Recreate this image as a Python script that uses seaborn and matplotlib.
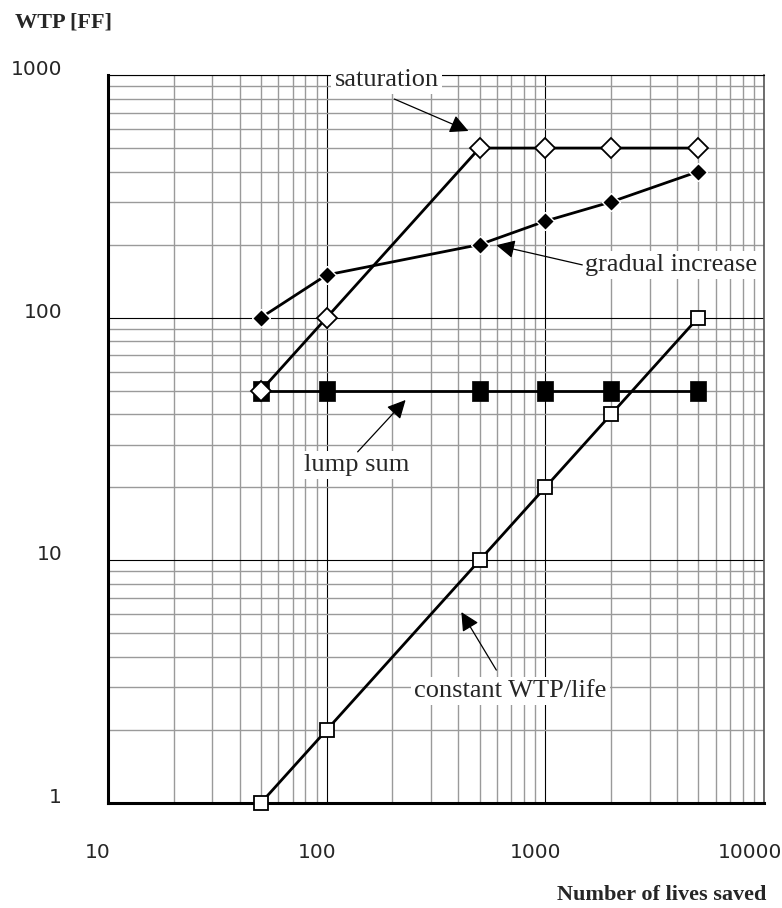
import matplotlib
matplotlib.use("Agg")
import matplotlib.pyplot as plt
import matplotlib.ticker as mticker
import matplotlib.transforms as mtrans
import numpy as np
import pandas as pd
import seaborn as sns

# data
lives = [50, 100, 500, 1000, 2000, 5000]
wtp_saturation = [50, 100, 500, 500, 500, 500]
wtp_gradual = [100, 150, 200, 250, 300, 400]
wtp_lump = [50, 50, 50, 50, 50, 50]
wtp_constant = [1, 2, 10, 20, 40, 100]

x_ticks = [10, 100, 1000, 10000]
y_ticks = [1, 10, 100, 1000]

sns.set_style("white")
plt.rcParams["font.family"] = ["DejaVu Sans"]

fig = plt.figure(figsize=(7.82, 9.08), dpi=100)
ax = fig.add_axes([0.1381, 0.1156, 0.977 - 0.1381, 0.9174 - 0.1156])

ax.set_xscale("log")
ax.set_yscale("log")
ax.set_xlim(10, 10000)
ax.set_ylim(1, 1000)

# grid: grey minor, black major
ax.xaxis.set_minor_locator(mticker.LogLocator(base=10, subs=np.arange(2, 10)))
ax.yaxis.set_minor_locator(mticker.LogLocator(base=10, subs=np.arange(2, 10)))
ax.xaxis.set_minor_formatter(mticker.NullFormatter())
ax.yaxis.set_minor_formatter(mticker.NullFormatter())
ax.grid(which="minor", color="#9a9a9a", lw=1.0, zorder=0)
ax.grid(which="major", color="black", lw=0.8, zorder=0)
ax.set_axisbelow(True)

ax.set_xticks(x_ticks)
ax.set_yticks(y_ticks)
ax.set_xticklabels([str(v) for v in x_ticks])
ax.set_yticklabels([str(v) for v in y_ticks])
ax.tick_params(which="major", direction="out", length=7, width=1.0, color="#8a8a8a",
               labelsize=14.5)
ax.tick_params(axis="x", pad=22)
ax.tick_params(axis="y", pad=26)
ax.tick_params(which="minor", length=0)

for lab in ax.get_yticklabels():
    lab.set_verticalalignment("baseline")
xlabs = ax.get_xticklabels()
for i, lab in enumerate(xlabs):
    dx = -0.14 if i == len(xlabs) - 1 else -0.1
    lab.set_transform(lab.get_transform() + mtrans.ScaledTranslation(dx, 0, fig.dpi_scale_trans))

for side in ["left", "bottom"]:
    ax.spines[side].set_color("black")
    ax.spines[side].set_linewidth(2.2)
ax.spines["top"].set_color("black")
ax.spines["top"].set_linewidth(0.8)
ax.spines["right"].set_color("#555555")
ax.spines["right"].set_linewidth(1.2)

df = pd.DataFrame({
    "lives": lives,
    "saturation": wtp_saturation,
    "gradual": wtp_gradual,
    "lump": wtp_lump,
    "constant": wtp_constant,
})

rect = [(-0.8, -1), (0.8, -1), (0.8, 1), (-0.8, 1), (-0.8, -1)]

sns.lineplot(data=df, x="lives", y="lump", ax=ax, color="black", lw=2.0,
             marker=rect, markersize=14.5, markerfacecolor="black",
             markeredgecolor="black", markeredgewidth=0.5, clip_on=False, zorder=3)
sns.lineplot(data=df, x="lives", y="constant", ax=ax, color="black", lw=2.0,
             marker="s", markersize=10, markerfacecolor="white",
             markeredgecolor="black", markeredgewidth=1.3, clip_on=False, zorder=4)
sns.lineplot(data=df, x="lives", y="gradual", ax=ax, color="black", lw=2.0,
             marker="D", markersize=9.5, markerfacecolor="black",
             markeredgecolor="white", markeredgewidth=1.0, clip_on=False, zorder=5)
sns.lineplot(data=df, x="lives", y="saturation", ax=ax, color="black", lw=2.0,
             marker="D", markersize=10.5, markerfacecolor="white",
             markeredgecolor="black", markeredgewidth=1.3, clip_on=False, zorder=6)

ax.set_xlabel("")
ax.set_ylabel("")

# callouts
serif = "Liberation Serif"
box = dict(boxstyle="square,pad=0.12", fc="white", ec="none")
arrow = dict(arrowstyle="-|>", color="black", lw=0.9, mutation_scale=28,
             shrinkA=0, shrinkB=0)
callouts = [
    ("saturation", (188, 953), (204, 796), (445, 588)),
    ("gradual increase", (3758, 165), (1476, 165), (597, 199)),
    ("lump sum", (137, 24.7), (138.6, 28.0), (229.6, 45.8)),
    ("constant WTP/life", (692, 2.9), (597, 3.53), (413, 6.12)),
]
for txt, pos, start, tip in callouts:
    ax.text(pos[0], pos[1], txt, family=serif, fontsize=19, ha="center",
            va="center", bbox=box, zorder=7)
    ax.annotate("", xy=tip, xytext=start, arrowprops=arrow, zorder=7)

fig.text(15 / 782, 1 - 28 / 908, "WTP [FF]", family=serif, fontweight="bold",
         fontsize=16, ha="left", va="baseline")
fig.text(766 / 782, 1 - 900 / 908, "Number of lives saved", family=serif,
         fontweight="bold", fontsize=16, ha="right", va="baseline")

fig.savefig("out.png", dpi=100)
